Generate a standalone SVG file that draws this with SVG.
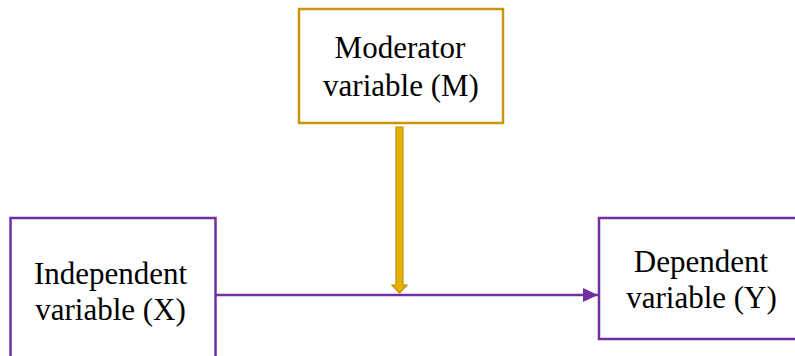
<svg xmlns="http://www.w3.org/2000/svg" width="795" height="356" viewBox="0 0 795 356">
<style>
.t{font-family:"Liberation Serif","Times New Roman",serif;font-size:31px;fill:#000;text-anchor:middle}
.p{fill:#fff;stroke:#7030A0;stroke-width:2.5}
.g{fill:#fff;stroke:#C9960A;stroke-width:2.5}
</style>
<defs>
<marker id="ah" markerWidth="16" markerHeight="16" viewBox="0 0 16 16" refX="15" refY="8" orient="auto" markerUnits="userSpaceOnUse">
<path d="M0,1 L15,8 L0,15 Z" fill="#7030A0"/>
</marker>
</defs>
<rect width="795" height="356" fill="#fff"/>
<g id="moderator">
<rect class="g" x="299" y="9" width="204" height="114"/>
<text class="t" x="400" y="58">Moderator</text>
<text class="t" x="401" y="96">variable (M)</text>
</g>
<g id="independent">
<rect class="p" x="10.5" y="218" width="205" height="150"/>
<text class="t" x="110.5" y="284">Independent</text>
<text class="t" x="110.5" y="320">variable (X)</text>
</g>
<g id="dependent">
<rect class="p" x="599" y="218" width="210" height="121"/>
<text class="t" x="701" y="272">Dependent</text>
<text class="t" x="701.5" y="308">variable (Y)</text>
</g>
<g id="connectors">
<line x1="215.5" y1="295" x2="598" y2="295" stroke="#7030A0" stroke-width="2.5" marker-end="url(#ah)"/>
<path d="M396,127 L403,127 L403,285 L407,285 L399.5,293 L392,285 L396,285 Z" fill="#E6B000" stroke="#C09000" stroke-width="1.2"/>
</g>
</svg>
